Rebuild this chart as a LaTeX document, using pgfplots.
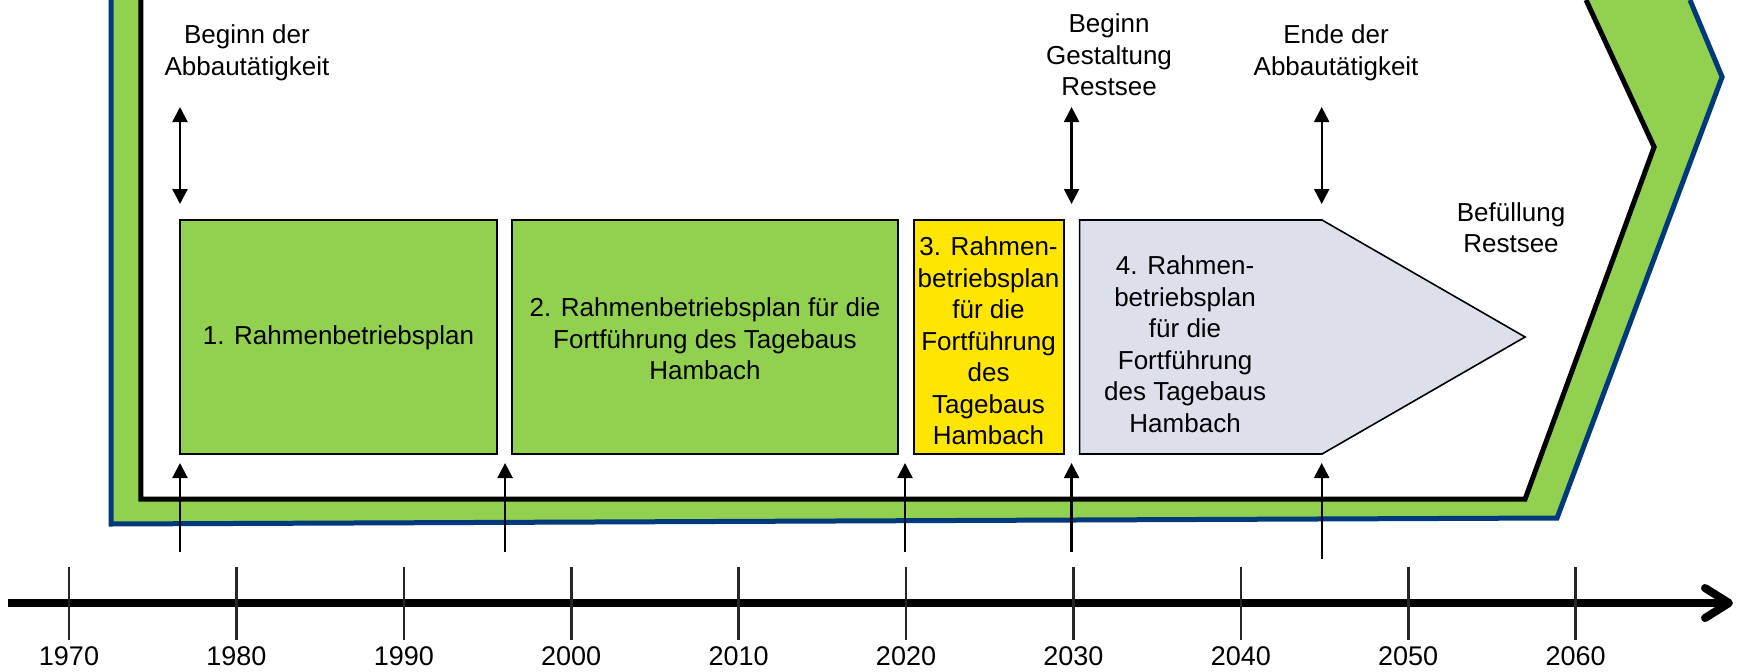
\documentclass[border=0pt]{standalone}
\usepackage{fontspec}
\setmainfont{Liberation Sans}
\usepackage{pgfplots}
\pgfplotsset{compat=1.18}
\usetikzlibrary{arrows.meta}
\definecolor{lgreen}{HTML}{92D050}
\definecolor{dblue}{HTML}{003A7D}
\definecolor{byellow}{HTML}{FFE600}
\definecolor{lgray}{HTML}{DCE0EB}
\tikzset{txt/.style={font=\fontsize{13}{15.75}\selectfont, align=center, inner sep=0pt}}
\begin{document}
\begin{tikzpicture}
\begin{axis}[
  scale only axis, width=869pt, height=335.5pt,
  xmin=1965.878, xmax=2069.70, ymin=0, ymax=671,
  axis x line*=bottom, axis y line=none,
  x axis line style={draw=none},
  xtick={1970,1980,1990,2000,2010,2020,2030,2040,2050,2060},
  xticklabels={1970,1980,1990,2000,2010,2020,2030,2040,2050,2060},
  major tick length=0pt,
  xticklabel style={anchor=center, yshift=7.5pt, inner sep=0pt, font=\fontsize{13.5}{16}\selectfont},
  ytick=\empty,
  clip=true,
  /pgf/number format/assume math mode=true,
]
% frame: green band
\addplot[fill=lgreen, draw=none] coordinates {(1972.51,671) (1972.51,147) (2058.89,153) (2068.75,594) (2066.83,671)} -- cycle;
\addplot[fill=white, draw=none] coordinates {(1974.30,671) (1974.30,172) (2056.98,172) (2064.69,524) (2060.62,671)} -- cycle;
\addplot[draw=dblue, line width=2.5pt, line join=miter] coordinates {(1972.51,671) (1972.51,147) (2058.89,153) (2068.75,594) (2066.83,671)};
\addplot[draw=black, line width=2.5pt, line join=miter] coordinates {(1974.30,671) (1974.30,172) (2056.98,172) (2064.69,524) (2060.62,671)};
% boxes
\addplot[fill=lgreen, draw=black, line width=1pt] coordinates {(1976.63,451) (1995.57,451) (1995.57,217) (1976.63,217)} -- cycle;
\addplot[fill=lgreen, draw=black, line width=1pt] coordinates {(1996.46,451) (2019.52,451) (2019.52,217) (1996.46,217)} -- cycle;
\addplot[fill=byellow, draw=black, line width=1pt] coordinates {(2020.45,451) (2029.44,451) (2029.44,217) (2020.45,217)} -- cycle;
\addplot[fill=lgray, draw=black, line width=0.8pt] coordinates {(2030.37,451) (2044.85,451) (2056.98,334) (2044.85,217) (2030.37,217)} -- cycle;
% up arrows
\addplot[line width=1.1pt, -{Triangle[length=7.5pt,width=7.5pt]}] coordinates {(1976.63,119) (1976.63,208)};
\addplot[line width=1.1pt, -{Triangle[length=7.5pt,width=7.5pt]}] coordinates {(1996.05,119) (1996.05,208)};
\addplot[line width=1.1pt, -{Triangle[length=7.5pt,width=7.5pt]}] coordinates {(2019.94,119) (2019.94,208)};
\addplot[line width=1.1pt, -{Triangle[length=7.5pt,width=7.5pt]}] coordinates {(2029.89,119) (2029.89,208)};
\addplot[line width=1.1pt, -{Triangle[length=7.5pt,width=7.5pt]}] coordinates {(2044.83,112) (2044.83,208)};
% double arrows
\addplot[line width=1.1pt, {Triangle[length=7.5pt,width=7.5pt]}-{Triangle[length=7.5pt,width=7.5pt]}] coordinates {(1976.63,467) (1976.63,564)};
\addplot[line width=1.1pt, {Triangle[length=7.5pt,width=7.5pt]}-{Triangle[length=7.5pt,width=7.5pt]}] coordinates {(2029.89,467) (2029.89,564)};
\addplot[line width=1.1pt, {Triangle[length=7.5pt,width=7.5pt]}-{Triangle[length=7.5pt,width=7.5pt]}] coordinates {(2044.83,467) (2044.83,564)};
% timeline
\addplot[line width=4pt, -{Straight Barb[length=12pt,width=15pt,round]}] coordinates {(1966.36,68) (2069.40,68)};
\addplot[black!85, line width=1.3pt] coordinates {(1970,104) (1970,31)};
\addplot[black!85, line width=1.3pt] coordinates {(1980,104) (1980,31)};
\addplot[black!85, line width=1.3pt] coordinates {(1990,104) (1990,31)};
\addplot[black!85, line width=1.3pt] coordinates {(2000,104) (2000,31)};
\addplot[black!85, line width=1.3pt] coordinates {(2010,104) (2010,31)};
\addplot[black!85, line width=1.3pt] coordinates {(2020,104) (2020,31)};
\addplot[black!85, line width=1.3pt] coordinates {(2030,104) (2030,31)};
\addplot[black!85, line width=1.3pt] coordinates {(2040,104) (2040,31)};
\addplot[black!85, line width=1.3pt] coordinates {(2050,104) (2050,31)};
\addplot[black!85, line width=1.3pt] coordinates {(2060,104) (2060,31)};
% texts
\node[txt] at (axis cs:1980.63,618) {Beginn der\\Abbautätigkeit};
\node[txt] at (axis cs:2032.13,616) {Beginn\\Gestaltung\\Restsee};
\node[txt] at (axis cs:2045.69,618) {Ende der\\Abbautätigkeit};
\node[txt] at (axis cs:2056.14,443.5) {Befüllung\\Restsee};
\node[txt] at (axis cs:1986.10,333) {1. Rahmenbetriebsplan};
\node[txt] at (axis cs:2007.99,332) {2. Rahmenbetriebsplan für die\\Fortführung des Tagebaus\\Hambach};
\node[txt] at (axis cs:2024.93,330) {3. Rahmen-\\betriebsplan\\für die\\Fortführung\\des\\Tagebaus\\Hambach};
\node[txt] at (axis cs:2036.67,327) {4. Rahmen-\\betriebsplan\\für die\\Fortführung\\des Tagebaus\\Hambach};
\coordinate (bbsw) at (rel axis cs:0,0);
\coordinate (bbne) at (rel axis cs:1,1);
\end{axis}
\pgfresetboundingbox
\path (bbsw) rectangle (bbne);
\end{tikzpicture}
\end{document}
